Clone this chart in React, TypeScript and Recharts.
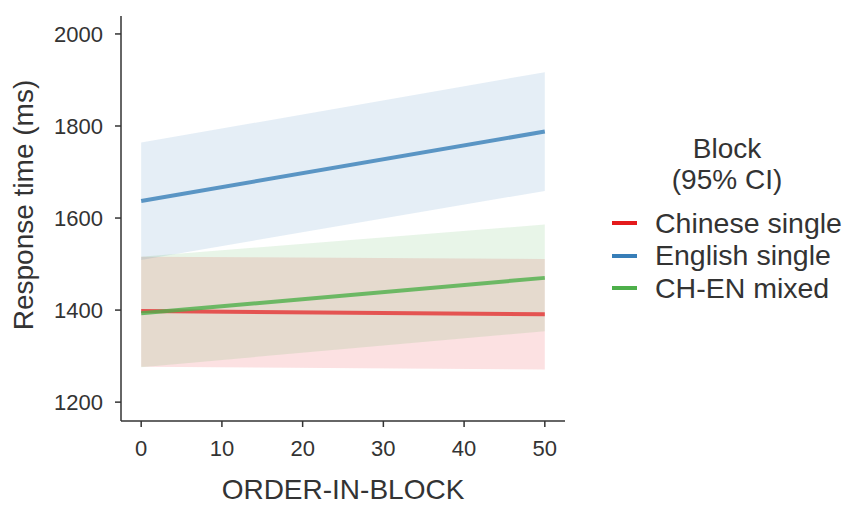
import { ComposedChart, Area, Line, XAxis, YAxis } from "recharts";

const orders = [0, 50];
const blocks = ["Chinese single", "English single", "CH-EN mixed"];
const colors = ["#E41A1C", "#377EB8", "#4DAF4A"];

const chineseFit = [1398, 1391];
const chineseLo = [1277, 1271];
const chineseHi = [1516, 1511];

const englishFit = [1637, 1788];
const englishLo = [1509, 1659];
const englishHi = [1764, 1917];

const mixedFit = [1393, 1470];
const mixedLo = [1276, 1354];
const mixedHi = [1516, 1586];

const xTicks = [0, 10, 20, 30, 40, 50];
const yTicks = [1200, 1400, 1600, 1800, 2000];

const data = orders.map((order, i) => ({
  order,
  chFit: chineseFit[i],
  chBand: [chineseLo[i], chineseHi[i]],
  enFit: englishFit[i],
  enBand: [englishLo[i], englishHi[i]],
  mxFit: mixedFit[i],
  mxBand: [mixedLo[i], mixedHi[i]],
}));

const font = "'Liberation Sans', Arial, sans-serif";
const ink = "#333333";

function BlockLegend() {
  return (
    <div style={{ position: "absolute", left: 612, top: 133, fontFamily: font, color: ink }}>
      <div style={{ textAlign: "center", fontSize: 28, lineHeight: "31px", width: 230 }}>
        Block
        <br />
        (95% CI)
      </div>
      <div style={{ marginTop: 12 }}>
        {blocks.map((b, i) => (
          <div key={b} style={{ display: "flex", alignItems: "center", height: 32.5 }}>
            <div style={{ width: 25, height: 4, background: colors[i], marginRight: 18 }} />
            <span style={{ fontSize: 28.5, whiteSpace: "nowrap" }}>{b}</span>
          </div>
        ))}
      </div>
    </div>
  );
}

export default function App() {
  return (
    <div style={{ position: "absolute", left: 0, top: 0, width: 846, height: 506, background: "#fff" }}>
      <ComposedChart
        width={846}
        height={506}
        data={data}
        margin={{ top: 16, right: 281, bottom: 0, left: 61 }}
      >
        <XAxis
          dataKey="order"
          type="number"
          domain={[-2.5, 52.5]}
          ticks={xTicks}
          allowDataOverflow
          height={85}
          stroke={ink}
          strokeWidth={1.5}
          tickSize={6}
          tickMargin={13}
          tick={{ fill: ink, fontSize: 22, fontFamily: font }}
        />
        <YAxis
          type="number"
          domain={[1159, 2039]}
          ticks={yTicks}
          allowDataOverflow
          width={60}
          stroke={ink}
          strokeWidth={1.5}
          tickSize={6}
          tickMargin={12}
          tick={{ fill: ink, fontSize: 22, fontFamily: font }}
        />
        <Area dataKey="chBand" type="linear" stroke="none" fill={colors[0]} fillOpacity={0.13} isAnimationActive={false} />
        <Area dataKey="enBand" type="linear" stroke="none" fill={colors[1]} fillOpacity={0.13} isAnimationActive={false} />
        <Area dataKey="mxBand" type="linear" stroke="none" fill={colors[2]} fillOpacity={0.13} isAnimationActive={false} />
        <Line dataKey="chFit" type="linear" stroke={colors[0]} strokeOpacity={0.7} strokeWidth={4} dot={false} activeDot={false} isAnimationActive={false} />
        <Line dataKey="enFit" type="linear" stroke={colors[1]} strokeOpacity={0.8} strokeWidth={4} dot={false} activeDot={false} isAnimationActive={false} />
        <Line dataKey="mxFit" type="linear" stroke={colors[2]} strokeOpacity={0.8} strokeWidth={4} dot={false} activeDot={false} isAnimationActive={false} />
      </ComposedChart>
      <BlockLegend />
      <div
        style={{
          position: "absolute",
          left: 343,
          top: 490,
          transform: "translate(-50%, -50%)",
          fontFamily: font,
          fontSize: 28,
          color: ink,
          whiteSpace: "nowrap",
        }}
      >
        ORDER-IN-BLOCK
      </div>
      <div
        style={{
          position: "absolute",
          left: 24,
          top: 205,
          transform: "translate(-50%, -50%) rotate(-90deg)",
          fontFamily: font,
          fontSize: 28,
          color: ink,
          whiteSpace: "nowrap",
        }}
      >
        Response time (ms)
      </div>
    </div>
  );
}
